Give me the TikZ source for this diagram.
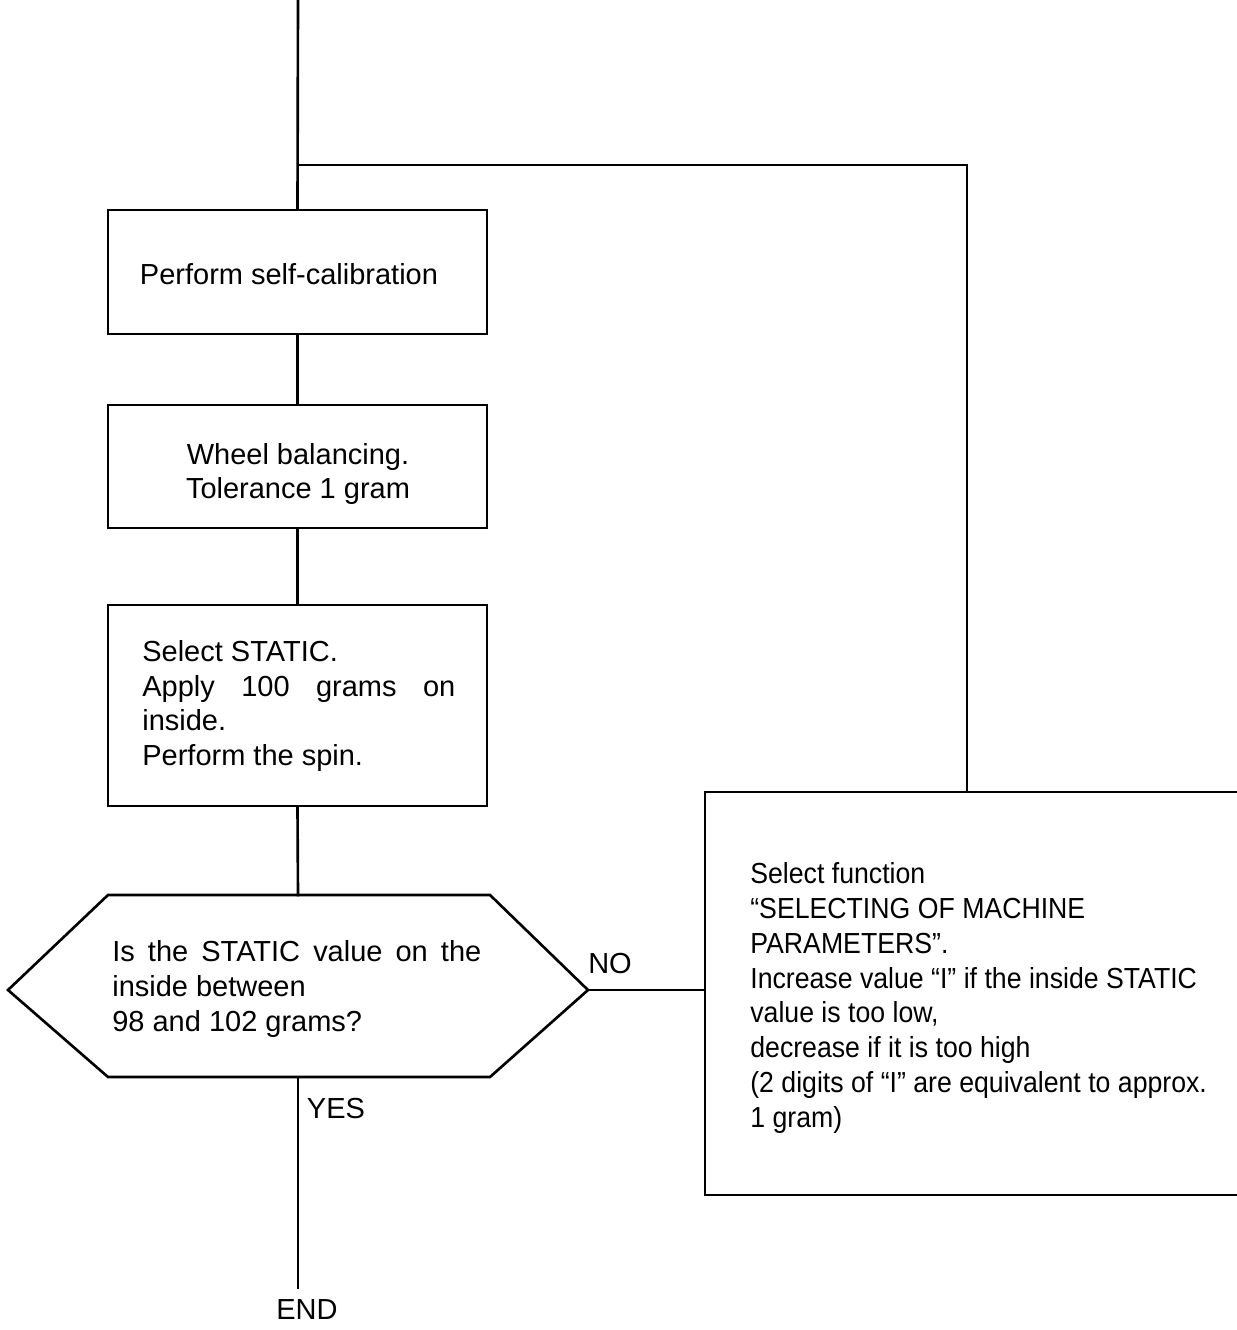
\documentclass[tikz,border=0pt]{standalone}
\usepackage{fontspec}
\setmainfont{Liberation Sans}
\begin{document}
\begin{tikzpicture}[x=0.02cm,y=-0.02cm,
  line/.style={line width=1.5pt, line cap=rect},
  stepbox/.style={draw, line width=1.5pt, minimum width=7.58cm, inner sep=0pt},
  txt/.style={font=\fontsize{16.5}{19.8}\selectfont, inner sep=0pt},
  narrowtxt/.style={font=\fontsize{16.5}{19.8}\selectfont\addfontfeature{FakeStretch=0.92}, inner sep=0pt}
]
\useasboundingbox (0,0) rectangle (1237,1330);

% coordinates
\coordinate (top) at (298,0);
\coordinate (loopL) at (298,165);
\coordinate (loopR) at (967,165);

% boxes
\node[stepbox, minimum height=2.48cm] (b1) at (297.5,272) {};
\node[txt] (t1) at (289,274) {Perform self-calibration};

\node[stepbox, minimum height=2.46cm] (b2) at (297.5,466.5) {};
\node[txt, align=center] (t2) at (298,474) {Wheel balancing.\\Tolerance 1 gram};

\node[stepbox, minimum height=4.02cm] (b3) at (297.5,705.5) {};
\node[txt, align=left, anchor=west] (t3) at (142,706)
  {Select STATIC.\\\hbox to 6.26cm{Apply\hfill 100\hfill grams\hfill on}\\inside.\\Perform the spin.};

% decision hexagon
\coordinate (htl) at (108,895);
\coordinate (htr) at (490,895);
\coordinate (hr)  at (588,990);
\coordinate (hbr) at (490,1077);
\coordinate (hbl) at (108,1077);
\coordinate (hl)  at (8,990);
\coordinate (htop) at (298,895);
\coordinate (hbot) at (298,1077);
\draw[line, line join=miter] (htl) -- (htr) -- (hr) -- (hbr) -- (hbl) -- (hl) -- cycle;
\node[txt, align=left, anchor=west] (q) at (112,989)
  {\hbox to 7.38cm{Is\hfill the\hfill STATIC\hfill value\hfill on\hfill the}\\inside between\\98 and 102 grams?};

% right box
\node[draw, line width=1.5pt, minimum width=10.7cm, minimum height=8.06cm, inner sep=0pt] (r) at (972.5,993.5) {};
\node[narrowtxt, align=left, anchor=west] (rt) at (750,998)
  {Select function\\``SELECTING OF MACHINE\\PARAMETERS''.\\Increase value ``I'' if the inside STATIC\\value is too low,\\decrease if it is too high\\(2 digits of ``I'' are equivalent to approx.\\1 gram)};
\coordinate (rtop) at (967,792);
\coordinate (rleft) at (705,990);

% labels
\node[txt] (no) at (610,964) {NO};
\node[txt] (yes) at (336,1109) {YES};
\node[txt] (endlbl) at (307,1310) {END};
\coordinate (lineend) at (298,1288);

% connectors
\draw[line] (top) -- (b1.north);
\draw[line] (loopL) -- (loopR) -- (rtop);
\draw[line] (b1.south) -- (b2.north);
\draw[line] (b2.south) -- (b3.north);
\draw[line] (b3.south) -- (htop);
\draw[line] (hr) -- (rleft);
\draw[line] (hbot) -- (lineend);
\end{tikzpicture}
\end{document}
